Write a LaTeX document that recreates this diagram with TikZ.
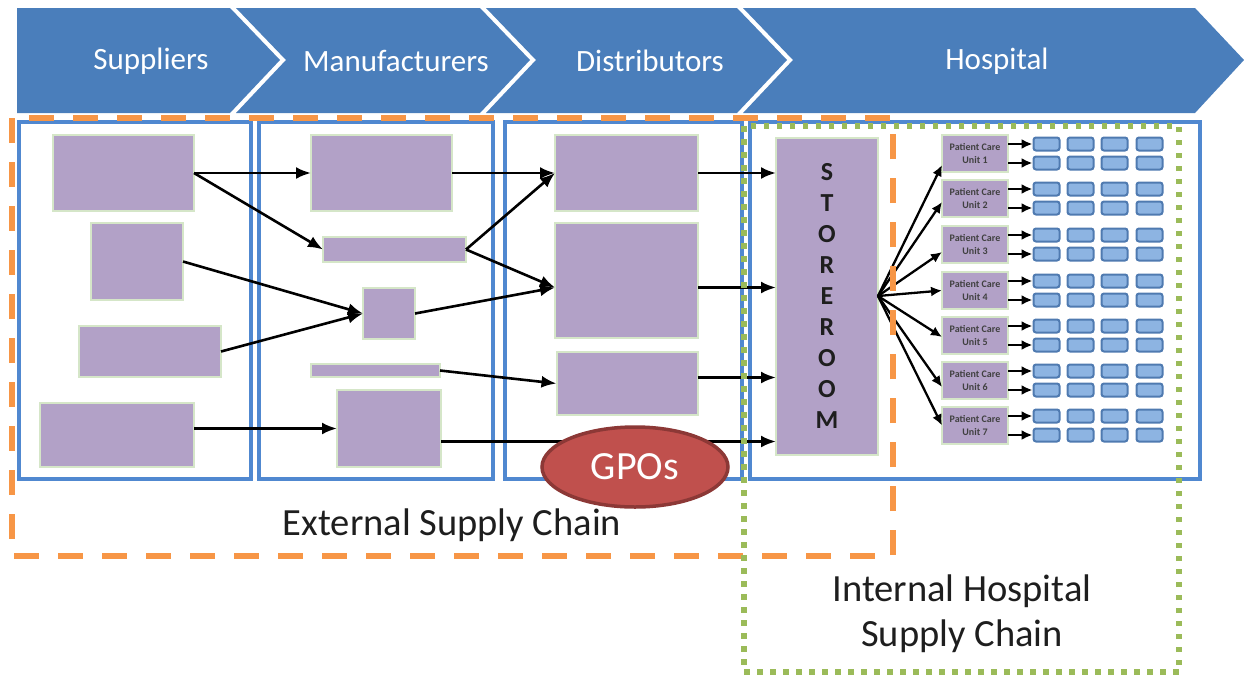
\documentclass[tikz,border=0pt]{standalone}
\usepackage{fontspec}
\setmainfont{Carlito}
\usetikzlibrary{arrows.meta,shapes.geometric,calc}
\definecolor{bannerblue}{HTML}{4A7EBB}
\definecolor{panelblue}{HTML}{5088D0}
\definecolor{boxpurple}{HTML}{B2A1C7}
\definecolor{boxedge}{HTML}{D5E6C8}
\definecolor{cellblue}{HTML}{8DB4E2}
\definecolor{celledge}{HTML}{4F7AB0}
\definecolor{extorange}{HTML}{F79646}
\definecolor{intgreen}{HTML}{9BBB59}
\definecolor{gpored}{HTML}{C0504D}
\definecolor{gpoedge}{HTML}{8C3836}
\definecolor{labelgrey}{HTML}{1E1E1E}
\begin{document}
\begin{tikzpicture}[x=1pt,y=-1pt,
  stage/.style={fill=bannerblue},
  stagetext/.style={text=white,font=\fontsize{31}{36}\selectfont},
  panel/.style={draw=panelblue,line width=3.2pt},
  pbox/.style={fill=boxpurple,draw=boxedge,line width=2pt,inner sep=0pt,outer sep=0pt},
  unitbox/.style={pbox,minimum width=66pt,minimum height=37pt,align=center,
    font=\fontsize{10}{13}\selectfont\bfseries,text=labelgrey!85},
  cell/.style={fill=cellblue,draw=celledge,line width=2pt,rounded corners=2.5pt,
    minimum width=26pt,minimum height=13pt,inner sep=0pt},
  arr/.style={draw=black,line width=2.6pt,-{Latex[length=15pt,width=12pt]}},
  smallarr/.style={draw=black,line width=2.3pt,-{Latex[length=11pt,width=10pt]}},
  caption/.style={text=labelgrey,font=\fontsize{38.5}{45}\selectfont,align=center}]
\useasboundingbox (0,0) rectangle (1244,675);

% stage banner
\fill[stage] (17,8) -- (230,8) -- (280,60) -- (230,113) -- (17,113) -- cycle;
\fill[stage] (236,8) -- (480,8) -- (530,60) -- (480,113) -- (236,113) -- (286,60) -- cycle;
\fill[stage] (486,8) -- (737,8) -- (787,60) -- (737,113) -- (486,113) -- (536,60) -- cycle;
\fill[stage] (743,8) -- (1195,8) -- (1244,60) -- (1195,113) -- (743,113) -- (793,60) -- cycle;
\node[stagetext] (tsup) at (151,61) {Suppliers};
\node[stagetext] (tman) at (396,61) {Manufacturers};
\node[stagetext] (tdis) at (650,61) {Distributors};
\node[stagetext] (thos) at (997,61) {Hospital};

% stage panels
\draw[panel] (19,122) rectangle (251,479);
\draw[panel] (259,122) rectangle (493,479);
\draw[panel] (505,122) rectangle (742,479);
\draw[panel] (750,122) rectangle (1200,479);

% suppliers
\node[pbox,minimum width=141pt,minimum height=76pt] (s1) at (123.5,173) {};
\node[pbox,minimum width=92pt,minimum height=77pt] (s2) at (137,261.5) {};
\node[pbox,minimum width=142pt,minimum height=51pt] (s3) at (150,351.5) {};
\node[pbox,minimum width=154pt,minimum height=64pt] (s4) at (117,435) {};
% manufacturers
\node[pbox,minimum width=141pt,minimum height=76pt] (m1) at (381.5,173) {};
\node[pbox,minimum width=143pt,minimum height=25pt] (m2) at (394.5,249.5) {};
\node[pbox,minimum width=52pt,minimum height=51pt] (m3) at (389,313.5) {};
\node[pbox,minimum width=129pt,minimum height=13pt] (m4) at (375.5,370.5) {};
\node[pbox,minimum width=104pt,minimum height=77pt] (m5) at (389,428.5) {};
% distributors
\node[pbox,minimum width=143pt,minimum height=76pt] (d1) at (626.5,173) {};
\node[pbox,minimum width=143pt,minimum height=115pt] (d2) at (626.5,280.5) {};
\node[pbox,minimum width=141pt,minimum height=63pt] (d3) at (627,383.5) {};
% storeroom
\node[pbox,minimum width=102pt,minimum height=317pt,align=center,
  font=\fontsize{26}{30.9}\selectfont\bfseries,text=labelgrey] (st) at (827,296)
  {S\\T\\O\\R\\E\\R\\O\\O\\M};

% flows between the external stages
\draw[arr] (s1.east) -- (m1.west);
\draw[arr] (s1.east) -- (m2.west);
\draw[arr] (s2.east) -- (m3.west);
\draw[arr] (s3.east) -- (m3.west);
\draw[arr] (s4.east |- m5.west) -- (m5.west);
\coordinate (d2in) at ($(d2.west)+(0,7)$);
\draw[arr] (m1.east) -- (d1.west);
\draw[arr] (m2.east) -- (d1.west);
\draw[arr] (m2.east) -- (d2in);
\draw[arr] (m3.east) -- (d2in);
\draw[arr] (m4.east) -- (d3.west);
% into the storeroom
\coordinate (m5out) at ($(m5.east)+(0,13)$);
\draw[arr] (d1.east) -- (st.west |- d1.east);
\draw[arr] ($(d2.east)+(0,7)$) -- ($(st.west |- d2.east)+(0,7)$);
\draw[arr] ($(d3.east)+(0,-6)$) -- ($(st.west |- d3.east)+(0,-6)$);
\draw[arr] (m5out) -- (st.west |- m5out);

% patient care units and their supply points
\foreach \i/\cy/\o in {1/153.5/11.5,2/198.5/3.5,3/244.5/7.5,4/290.5/0,5/335.5/1.5,6/380.5/6.5,7/425.5/0}{
  \node[unitbox] (p\i) at (975,\cy) {Patient Care\\Unit \i};
  \draw[smallarr] (st.east) -- ($(p\i.west)+(0,\o)$);
  \foreach \c/\cx in {1/1046.5,2/1080.5,3/1114.5,4/1149.5}{
    \node[cell] (c\i-\c-a) at (\cx,\cy-9.5) {};
    \node[cell] (c\i-\c-b) at (\cx,\cy+9.5) {};
  }
  \draw[smallarr] (p\i.east |- c\i-1-a.west) -- (c\i-1-a.west);
  \draw[smallarr] (p\i.east |- c\i-1-b.west) -- (c\i-1-b.west);
}

% supply chain boundaries
\draw[extorange,line width=6pt,dash pattern=on 25pt off 19pt] (12,118) rectangle (893,556);
\draw[intgreen,line width=5.5pt,dash pattern=on 5.5pt off 7.5pt] (744,126) rectangle (1179,672);

% group purchasing organisations
\node[ellipse,fill=gpored,draw=gpoedge,line width=3.5pt,minimum width=186pt,minimum height=80pt,
  text=white,font=\fontsize{40}{44}\selectfont] (gpo) at (635,467) {GPOs};

% captions
\node[caption] (ext) at (452,525) {External Supply Chain};
\node[caption] (int) at (962,614) {Internal Hospital\\Supply Chain};
\end{tikzpicture}
\end{document}
